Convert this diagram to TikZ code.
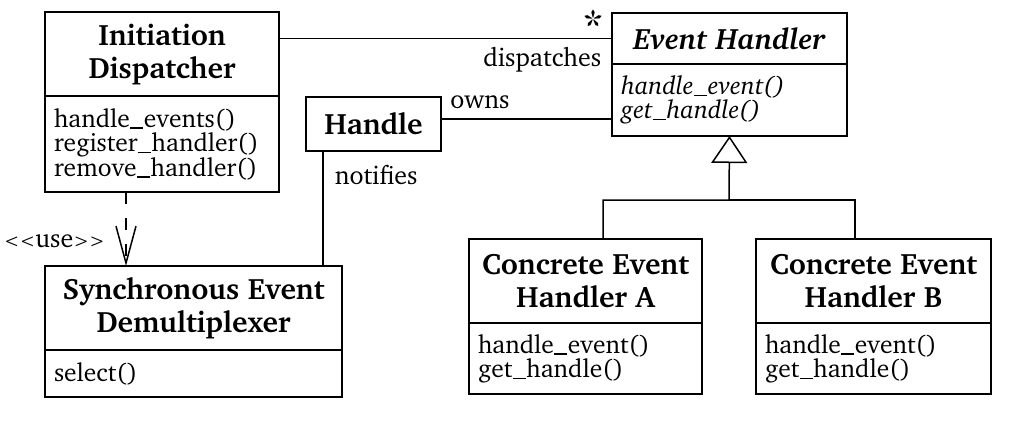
\documentclass[tikz,border=0pt]{standalone}
\usepackage[T1]{fontenc}
\usepackage{charter}
\usepackage{tikz}
\usetikzlibrary{arrows.meta,positioning}
\newcommand{\uscore}{\kern0.5pt\rule[-1.5pt]{13pt}{1.4pt}\kern0.5pt}

\begin{document}
\begin{tikzpicture}[x=1pt,y=-1pt,line width=1.5pt]
  \tikzstyle{classname} = [draw=black,fill=none,align=center,minimum height=84pt,inner sep=0pt,outer sep=0pt,font=\fontsize{29.5}{33}\selectfont\bfseries]
  \tikzstyle{classops} = [draw=black,fill=none,align=left,inner xsep=9pt,inner ysep=0pt,outer sep=0pt,font=\fontsize{25.5}{24.5}\selectfont]
  \tikzstyle{rolename} = [draw=none,fill=none,inner sep=0pt,font=\fontsize{26}{26}\selectfont]

  \useasboundingbox (0,0) rectangle (1019,424);

  \node[classname,minimum width=234pt] (Dispatcher_0) at (162,54) {Initiation\\Dispatcher};
  \node[classops,text width=216pt,minimum height=96pt,below=0pt of Dispatcher_0] (Dispatcher_1) {handle\uscore events()\\register\uscore handler()\\remove\uscore handler()};

  \node[classname,minimum width=235pt,minimum height=51pt,font=\fontsize{29.5}{33}\selectfont\bfseries\itshape] (Handler_0) at (729.5,38.5) {Event Handler};
  \node[classops,text width=217pt,minimum height=72pt,font=\fontsize{25.5}{24.5}\selectfont\itshape,below=0pt of Handler_0] (Handler_1) {handle\uscore event()\\get\uscore handle()};

  \node[classname,minimum width=135pt,minimum height=54pt] (Handle) at (373.5,124) {Handle};

  \node[classname,minimum width=297pt] (Demux_0) at (193.5,308) {Synchronous Event\\Demultiplexer};
  \node[classops,text width=279pt,minimum height=47pt,below=0pt of Demux_0] (Demux_1) {select()};

  \node[classname,minimum width=233pt] (ConcreteA_0) at (585.5,281) {Concrete Event\\Handler A};
  \node[classops,text width=215pt,minimum height=71pt,below=0pt of ConcreteA_0] (ConcreteA_1) {handle\uscore event()\\get\uscore handle()};

  \node[classname,minimum width=235pt] (ConcreteB_0) at (873.5,281) {Concrete Event\\Handler B};
  \node[classops,text width=217pt,minimum height=71pt,below=0pt of ConcreteB_0] (ConcreteB_1) {handle\uscore event()\\get\uscore handle()};

  \node[rolename,font=\fontsize{44}{44}\selectfont] (star) at (593,26) {*};
  \node[rolename,anchor=east] (dispatches) at (602,60) {dispatches};
  \node[rolename] (owns) at (480,102) {owns};
  \node[rolename,anchor=west] (notifies) at (334,175) {notifies};
  \node[rolename,anchor=west] (use) at (3,241) {{\fontsize{19}{19}\selectfont\textless\kern0pt\textless}use{\fontsize{19}{19}\selectfont\textgreater\kern0pt\textgreater}};

  \coordinate (split) at (729,200);

  \draw [draw=black,-] (Handler_0.west) -- (Handler_0.west -| Dispatcher_0.east);
  \draw [draw=black,-] ([yshift=5pt]Handle.east) -- ([yshift=5pt]Handle.east -| Handler_1.west);
  \draw [draw=black,-] ([xshift=-50.5pt]Handle.south) -- ([xshift=-50.5pt]Handle.south |- Demux_0.north);
  \draw [draw=black,dash pattern=on 12pt off 14pt,-{Straight Barb[length=37pt,width=20pt]}] ([xshift=-36pt]Dispatcher_1.south) -- ([xshift=-36pt]Dispatcher_1.south |- Demux_0.north);

  \draw [draw=black,-{Triangle[open,length=27pt,width=36pt]}] ([xshift=17.5pt]ConcreteA_0.north) |- (split) -- (Handler_1.south);
  \draw [draw=black,-] ([xshift=-18.5pt]ConcreteB_0.north) |- (split);
\end{tikzpicture}
\end{document}
